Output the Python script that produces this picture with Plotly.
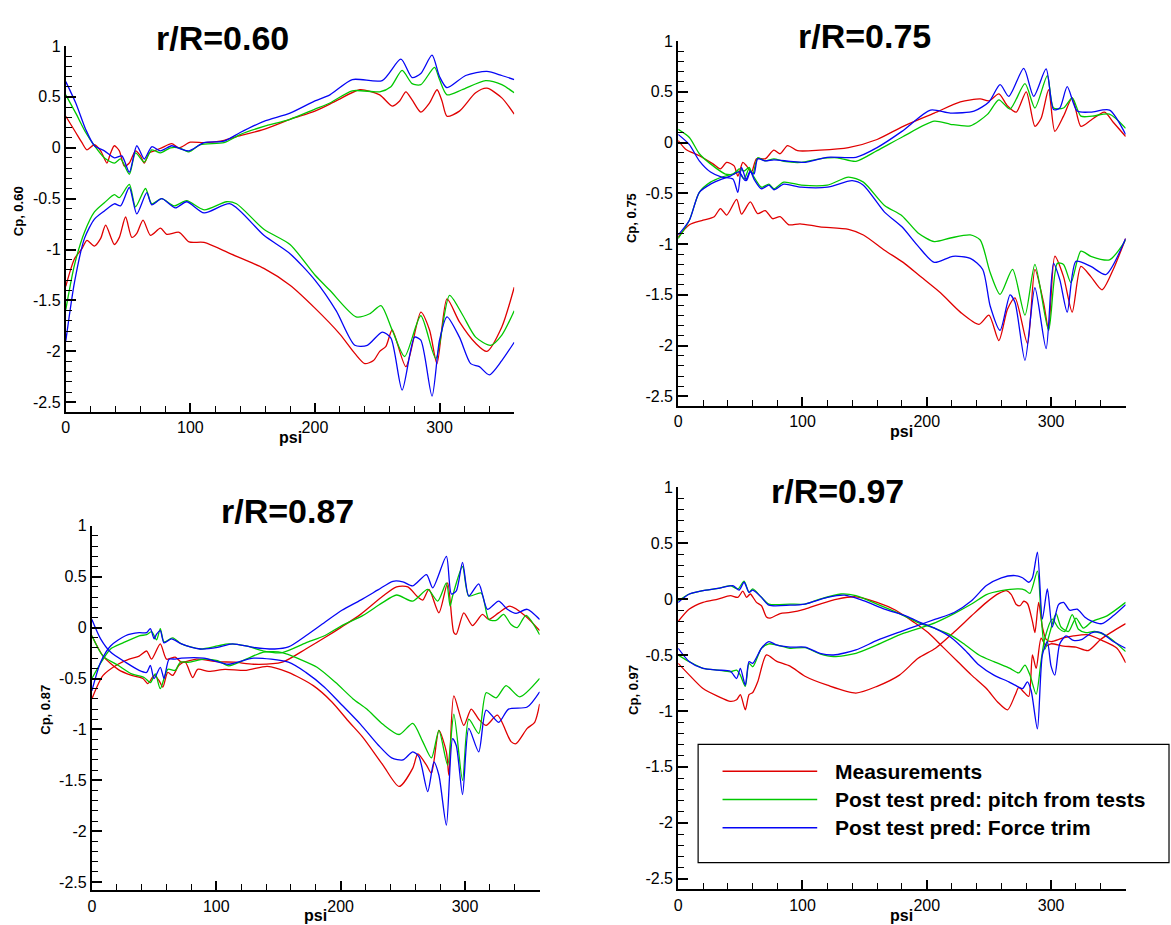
import plotly.graph_objects as go

W, H = 1171, 925
FONT = "Liberation Sans, Arial, Helvetica, sans-serif"

# ---------------- data (psi [deg], value) ----------------
SERIES = ["Measurements", "Post test pred: pitch from tests", "Post test pred: Force trim"]
COLORS = ["#e00000", "#00c800", "#0505f5"]

X_TICKS = [0, 100, 200, 300]
X_TICK_TEXT = ["0", "100", "200", "300"]
Y_TICKS = [-2.5, -2, -1.5, -1, -0.5, 0, 0.5, 1]
Y_TICK_TEXT = ["-2.5", "-2", "-1.5", "-1", "-0.5", "0", "0.5", "1"]

# r/R = 0.60
P60_MEAS_UP = [(0,0.31),(8,0.15),(13,0.05),(17,-0.02),(23,0.03),(28,-0.03),(33,-0.15),(36,-0.05),(39,0.02),(43,-0.03),(47,-0.18),(51,-0.15),(56,-0.03),(60,-0.08),(63,-0.15),(67,-0.05),(71,-0.03),(77,0.0),(85,0.04),(91,0.0),(100,0.055),(111,0.05),(124,0.065),(137,0.11),(159,0.18),(180,0.28),(200,0.36),(217,0.46),(236,0.57),(252,0.52),(262,0.41),(268,0.46),(273,0.55),(278,0.47),(285,0.35),(292,0.44),(298,0.57),(302,0.46),(306,0.31),(316,0.36),(329,0.54),(338,0.585),(350,0.49),(360,0.33)]
P60_MEAS_LO = [(0,-1.36),(7,-1.09),(13,-0.99),(17,-0.91),(23,-0.965),(28,-0.89),(32,-0.76),(39,-0.95),(43,-0.88),(48,-0.68),(53,-0.88),(57,-0.84),(62,-0.71),(68,-0.86),(76,-0.79),(81,-0.85),(91,-0.83),(99,-0.925),(111,-0.93),(132,-1.04),(159,-1.185),(180,-1.35),(200,-1.575),(220,-1.83),(232,-2.02),(240,-2.12),(247,-2.09),(252,-2.00),(257,-1.95),(262,-1.79),(273,-2.15),(285,-1.615),(292,-1.79),(298,-2.12),(306,-1.485),(316,-1.71),(329,-1.92),(338,-2.00),(350,-1.76),(360,-1.37)]
P60_PITCH_UP = [(0,0.52),(8,0.34),(16,0.15),(23,0.02),(31,-0.10),(39,-0.15),(44,-0.11),(51,-0.26),(56,-0.05),(63,-0.14),(69,-0.02),(76,-0.05),(84,0.0),(91,0.0),(99,-0.04),(108,0.03),(127,0.05),(140,0.13),(159,0.21),(180,0.28),(200,0.38),(212,0.44),(230,0.56),(252,0.55),(261,0.60),(270,0.76),(278,0.63),(285,0.62),(296,0.79),(300,0.67),(306,0.52),(318,0.57),(337,0.66),(350,0.62),(360,0.54)]
P60_PITCH_LO = [(0,-1.59),(7,-1.15),(15,-0.83),(23,-0.63),(31,-0.54),(39,-0.46),(43,-0.49),(51,-0.36),(56,-0.58),(64,-0.40),(69,-0.55),(77,-0.50),(87,-0.57),(97,-0.52),(111,-0.61),(129,-0.53),(137,-0.55),(159,-0.80),(180,-0.95),(200,-1.25),(212,-1.40),(233,-1.66),(244,-1.63),(253,-1.55),(262,-1.79),(272,-2.05),(285,-1.65),(297,-2.07),(308,-1.45),(318,-1.63),(329,-1.86),(341,-1.94),(350,-1.84),(360,-1.60)]
P60_FORCE_UP = [(0,0.65),(8,0.44),(16,0.18),(23,0.02),(31,-0.03),(39,-0.10),(45,-0.08),(51,-0.24),(57,0.02),(63,-0.11),(69,0.01),(76,-0.03),(85,0.02),(92,-0.01),(99,-0.03),(111,0.05),(127,0.065),(140,0.15),(159,0.26),(180,0.34),(200,0.46),(212,0.52),(230,0.67),(254,0.66),(269,0.87),(278,0.69),(285,0.73),(294,0.91),(300,0.70),(306,0.59),(321,0.71),(338,0.75),(350,0.71),(360,0.67)]
P60_FORCE_LO = [(0,-1.90),(7,-1.32),(15,-0.89),(23,-0.70),(31,-0.62),(39,-0.55),(44,-0.57),(51,-0.39),(57,-0.65),(65,-0.44),(69,-0.56),(77,-0.50),(88,-0.59),(97,-0.53),(111,-0.64),(132,-0.55),(159,-0.86),(180,-1.04),(200,-1.30),(217,-1.60),(232,-1.94),(242,-1.94),(254,-1.81),(261,-1.87),(270,-2.38),(280,-1.86),(285,-1.89),(294,-2.44),(300,-1.89),(306,-1.66),(316,-1.86),(325,-2.12),(332,-2.15),(340,-2.23),(350,-2.09),(360,-1.91)]

# r/R = 0.75
P75_MEAS_UP = [(0,0.02),(6,-0.065),(17,-0.13),(28,-0.21),(34,-0.26),(39,-0.195),(45,-0.23),(48,-0.33),(52,-0.195),(55,-0.23),(59,-0.29),(63,-0.16),(70,-0.16),(77,-0.075),(82,-0.11),(88,-0.03),(96,-0.08),(114,-0.075),(137,-0.05),(160,0.03),(181,0.16),(206,0.29),(227,0.40),(243,0.43),(250,0.41),(258,0.48),(265,0.36),(272,0.30),(280,0.50),(287,0.16),(292,0.24),(298,0.52),(303,0.11),(310,0.26),(317,0.44),(324,0.16),(332,0.22),(343,0.30),(350,0.20),(360,0.06)]
P75_MEAS_LO = [(0,-0.93),(9,-0.81),(20,-0.765),(29,-0.73),(34,-0.65),(39,-0.715),(47,-0.56),(51,-0.705),(58,-0.585),(64,-0.70),(70,-0.67),(76,-0.75),(82,-0.73),(89,-0.81),(98,-0.80),(114,-0.83),(137,-0.855),(149,-0.91),(166,-1.06),(181,-1.18),(195,-1.32),(211,-1.48),(227,-1.67),(242,-1.79),(250,-1.70),(258,-1.95),(265,-1.64),(271,-1.53),(281,-1.98),(287,-1.25),(294,-1.58),(298,-1.84),(303,-1.12),(310,-1.32),(317,-1.67),(324,-1.22),(332,-1.32),(341,-1.45),(350,-1.25),(360,-0.945)]
P75_PITCH_UP = [(0,0.13),(9,0.05),(17,-0.11),(26,-0.21),(38,-0.31),(45,-0.31),(49,-0.26),(53,-0.28),(57,-0.245),(60,-0.31),(64,-0.15),(70,-0.18),(77,-0.16),(85,-0.185),(99,-0.195),(114,-0.16),(128,-0.15),(143,-0.185),(160,-0.08),(181,0.06),(206,0.21),(219,0.18),(235,0.165),(249,0.28),(258,0.42),(267,0.33),(279,0.58),(287,0.34),(297,0.66),(302,0.34),(310,0.34),(317,0.44),(324,0.26),(333,0.26),(347,0.28),(360,0.14)]
P75_PITCH_LO = [(0,-0.945),(9,-0.765),(17,-0.49),(26,-0.39),(35,-0.34),(44,-0.31),(48,-0.28),(53,-0.36),(57,-0.26),(61,-0.34),(67,-0.44),(73,-0.41),(77,-0.455),(85,-0.39),(99,-0.42),(120,-0.42),(137,-0.34),(149,-0.39),(166,-0.62),(180,-0.72),(193,-0.89),(206,-0.975),(219,-0.94),(235,-0.91),(243,-0.96),(251,-1.28),(259,-1.495),(269,-1.25),(279,-1.70),(287,-1.20),(298,-1.85),(305,-1.19),(310,-1.20),(316,-1.38),(324,-1.07),(332,-1.12),(347,-1.155),(360,-0.96)]
P75_FORCE_UP = [(0,0.08),(9,-0.02),(17,-0.18),(26,-0.29),(35,-0.34),(44,-0.36),(48,-0.49),(51,-0.245),(55,-0.375),(58,-0.29),(61,-0.31),(64,-0.16),(70,-0.18),(77,-0.17),(90,-0.185),(102,-0.195),(120,-0.145),(143,-0.145),(160,-0.05),(180,0.11),(203,0.32),(219,0.29),(238,0.31),(250,0.40),(259,0.57),(266,0.455),(278,0.73),(286,0.455),(296,0.725),(302,0.325),(307,0.34),(313,0.55),(321,0.31),(332,0.30),(347,0.32),(360,0.08)]
P75_FORCE_LO = [(0,-0.91),(9,-0.765),(17,-0.49),(26,-0.41),(35,-0.36),(42,-0.33),(49,-0.29),(54,-0.375),(58,-0.28),(61,-0.36),(67,-0.455),(73,-0.42),(77,-0.465),(85,-0.41),(99,-0.44),(120,-0.44),(140,-0.375),(149,-0.42),(166,-0.685),(180,-0.83),(193,-1.02),(206,-1.18),(221,-1.12),(235,-1.14),(245,-1.25),(251,-1.61),(259,-1.85),(267,-1.50),(271,-1.575),(279,-2.145),(287,-1.43),(296,-2.03),(302,-1.19),(307,-1.35),(313,-1.67),(320,-1.17),(332,-1.22),(344,-1.30),(360,-0.945)]

# r/R = 0.87
P87_MEAS_UP = [(0,-0.70),(9,-0.47),(21,-0.36),(30,-0.31),(38,-0.28),(44,-0.23),(48,-0.31),(55,-0.16),(60,-0.31),(67,-0.29),(72,-0.34),(84,-0.31),(101,-0.335),(115,-0.34),(130,-0.36),(153,-0.34),(172,-0.21),(187,-0.10),(200,0.0),(216,0.13),(234,0.31),(245,0.40),(254,0.40),(262,0.30),(266,0.27),(271,0.375),(279,0.145),(286,0.44),(291,-0.05),(293,-0.065),(299,0.145),(306,0.02),(314,0.13),(319,0.08),(327,0.145),(336,0.21),(349,0.11),(360,-0.03)]
P87_MEAS_LO = [(0,-0.08),(9,-0.28),(21,-0.41),(32,-0.47),(41,-0.50),(45,-0.55),(50,-0.47),(54,-0.52),(57,-0.585),(61,-0.44),(65,-0.47),(70,-0.37),(75,-0.34),(81,-0.49),(85,-0.41),(94,-0.43),(107,-0.41),(124,-0.42),(141,-0.38),(158,-0.44),(178,-0.57),(193,-0.73),(207,-0.93),(218,-1.08),(234,-1.35),(247,-1.56),(258,-1.38),(262,-1.24),(269,-1.35),(273,-1.43),(279,-1.01),(285,-1.22),(287,-1.45),(291,-0.67),(299,-0.96),(305,-0.80),(311,-0.90),(317,-0.96),(326,-0.86),(337,-1.12),(341,-1.14),(350,-0.99),(356,-0.93),(360,-0.75)]
P87_PITCH_UP = [(0,-0.50),(8,-0.33),(15,-0.21),(25,-0.15),(38,-0.08),(44,-0.07),(48,-0.04),(52,-0.12),(55,-0.01),(58,-0.14),(65,-0.10),(72,-0.16),(87,-0.21),(101,-0.18),(110,-0.16),(124,-0.18),(138,-0.23),(153,-0.245),(172,-0.15),(187,-0.08),(201,0.02),(218,0.12),(233,0.24),(245,0.32),(258,0.26),(270,0.375),(278,0.26),(285,0.44),(288,0.21),(290,0.31),(298,0.60),(303,0.31),(313,0.34),(319,0.08),(325,0.07),(331,0.13),(337,0.03),(342,0.0),(349,0.12),(360,-0.07)]
P87_PITCH_LO = [(0,-0.08),(9,-0.28),(21,-0.37),(32,-0.455),(42,-0.49),(47,-0.54),(51,-0.455),(55,-0.60),(61,-0.41),(67,-0.42),(71,-0.34),(78,-0.34),(90,-0.31),(101,-0.325),(110,-0.375),(124,-0.31),(138,-0.24),(153,-0.245),(167,-0.31),(181,-0.39),(196,-0.54),(210,-0.70),(221,-0.80),(234,-0.95),(247,-1.05),(258,-0.94),(266,-1.12),(273,-1.28),(279,-1.01),(286,-1.35),(291,-0.85),(298,-1.50),(303,-0.90),(311,-1.04),(317,-0.64),(325,-0.69),(333,-0.57),(344,-0.68),(360,-0.50)]
P87_FORCE_UP = [(0,-0.62),(7,-0.34),(15,-0.18),(27,-0.08),(38,-0.05),(44,-0.05),(47,-0.01),(50,-0.11),(52,-0.065),(55,-0.03),(58,-0.15),(64,-0.11),(72,-0.16),(87,-0.21),(101,-0.195),(113,-0.16),(130,-0.195),(147,-0.21),(158,-0.19),(172,-0.08),(187,0.05),(201,0.17),(216,0.27),(230,0.37),(242,0.455),(250,0.45),(258,0.41),(269,0.52),(274,0.39),(285,0.70),(289,0.33),(293,0.36),(298,0.64),(303,0.31),(311,0.43),(318,0.18),(327,0.26),(334,0.18),(341,0.14),(350,0.18),(360,0.08)]
P87_FORCE_LO = [(0,0.08),(7,-0.11),(15,-0.24),(27,-0.34),(38,-0.42),(44,-0.44),(47,-0.37),(50,-0.50),(55,-0.39),(58,-0.50),(62,-0.31),(67,-0.31),(72,-0.30),(90,-0.30),(110,-0.36),(130,-0.30),(158,-0.34),(172,-0.44),(187,-0.585),(201,-0.76),(216,-0.95),(230,-1.15),(241,-1.28),(250,-1.30),(258,-1.22),(263,-1.27),(270,-1.61),(275,-1.32),(279,-1.45),(285,-1.94),(290,-1.09),(293,-1.16),(298,-1.64),(303,-0.99),(311,-1.22),(317,-0.81),(327,-0.93),(335,-0.80),(350,-0.78),(360,-0.63)]

# r/R = 0.97
P97_MEAS_UP = [(0,-0.20),(9,-0.09),(20,-0.03),(32,0.0),(42,0.03),(48,0.015),(52,0.07),(55,0.015),(58,0.045),(63,-0.03),(67,-0.06),(71,-0.16),(74,-0.17),(82,-0.13),(90,-0.12),(102,-0.09),(114,-0.045),(128,0.0),(143,0.02),(160,-0.03),(175,-0.10),(190,-0.21),(201,-0.30),(213,-0.43),(225,-0.56),(236,-0.68),(248,-0.80),(257,-0.92),(265,-0.99),(271,-0.86),(274,-0.79),(278,-0.83),(282,-0.87),(285,-0.50),(288,-0.62),(292,-0.35),(296,-0.42),(300,-0.40),(310,-0.42),(320,-0.43),(330,-0.46),(340,-0.36),(348,-0.30),(360,-0.22)]
P97_MEAS_LO = [(0,-0.575),(9,-0.68),(20,-0.80),(32,-0.87),(42,-0.915),(47,-0.90),(50,-0.855),(54,-0.99),(57,-0.855),(60,-0.835),(64,-0.74),(71,-0.50),(79,-0.555),(90,-0.60),(102,-0.69),(120,-0.77),(143,-0.84),(160,-0.78),(178,-0.68),(193,-0.53),(207,-0.44),(222,-0.295),(236,-0.15),(248,-0.03),(258,0.05),(264,0.075),(268,0.04),(272,-0.05),(275,-0.06),(278,-0.02),(281,-0.04),(285,-0.20),(287,-0.30),(290,-0.03),(293,-0.25),(296,-0.36),(300,-0.38),(309,-0.35),(318,-0.33),(330,-0.32),(341,-0.37),(353,-0.44),(360,-0.57)]
P97_PITCH_UP = [(0,-0.015),(9,0.045),(20,0.075),(32,0.095),(42,0.12),(48,0.09),(53,0.16),(57,0.06),(60,0.09),(67,0.015),(73,-0.045),(90,-0.045),(102,-0.045),(114,0.0),(131,0.045),(143,0.03),(160,-0.045),(178,-0.13),(193,-0.21),(207,-0.265),(219,-0.32),(231,-0.41),(242,-0.50),(254,-0.56),(267,-0.62),(274,-0.66),(279,-0.59),(283,-0.68),(288,-0.85),(292,-0.55),(295,-0.35),(301,-0.18),(306,-0.26),(311,-0.29),(317,-0.14),(322,-0.27),(328,-0.30),(335,-0.29),(345,-0.33),(360,-0.47)]
P97_PITCH_LO = [(0,-0.50),(9,-0.56),(20,-0.62),(32,-0.635),(42,-0.65),(47,-0.635),(50,-0.68),(54,-0.78),(57,-0.575),(60,-0.605),(67,-0.44),(73,-0.40),(79,-0.41),(90,-0.44),(102,-0.435),(114,-0.49),(125,-0.515),(143,-0.485),(160,-0.41),(178,-0.32),(193,-0.265),(207,-0.21),(222,-0.13),(236,-0.045),(248,0.04),(260,0.075),(274,0.09),(279,0.08),(283,0.05),(289,0.25),(292,-0.15),(295,-0.45),(299,-0.30),(304,-0.13),(308,-0.25),(314,-0.29),(320,-0.17),(326,-0.26),(333,-0.20),(345,-0.15),(360,-0.03)]
P97_FORCE_UP = [(0,-0.03),(9,0.045),(20,0.075),(32,0.095),(44,0.12),(49,0.08),(53,0.15),(57,0.06),(60,0.08),(67,0.015),(73,-0.055),(90,-0.055),(102,-0.045),(120,0.015),(134,0.035),(149,-0.015),(166,-0.09),(184,-0.155),(195,-0.21),(207,-0.265),(219,-0.34),(231,-0.46),(242,-0.59),(254,-0.68),(266,-0.74),(271,-0.77),(277,-0.80),(281,-0.74),(284,-0.82),(289,-1.16),(293,-0.50),(297,-0.38),(300,-0.60),(303,-0.68),(307,-0.40),(312,-0.33),(318,-0.37),(325,-0.36),(333,-0.30),(340,-0.30),(350,-0.38),(360,-0.44)]
P97_FORCE_LO = [(0,-0.44),(9,-0.56),(20,-0.62),(32,-0.635),(42,-0.645),(47,-0.71),(50,-0.62),(54,-0.77),(57,-0.56),(60,-0.575),(67,-0.44),(73,-0.38),(79,-0.41),(90,-0.43),(102,-0.43),(114,-0.485),(125,-0.50),(143,-0.455),(160,-0.37),(178,-0.295),(193,-0.235),(207,-0.18),(222,-0.12),(236,-0.015),(248,0.12),(260,0.19),(271,0.21),(277,0.19),(282,0.15),(285,0.19),(289,0.42),(293,-0.18),(297,0.09),(301,-0.25),(306,-0.05),(310,-0.03),(315,-0.10),(321,-0.09),(327,-0.16),(333,-0.20),(341,-0.22),(350,-0.15),(360,-0.05)]

PANELS = [
    dict(label="0.60", curves=[(P60_MEAS_UP, P60_MEAS_LO), (P60_PITCH_UP, P60_PITCH_LO), (P60_FORCE_UP, P60_FORCE_LO)],
         px=(62, 512), py=(38.3, 407.3), ybot=-2.593, title=(219, 30), ytitle=(14, 205), psi=(287, 433)),
    dict(label="0.75", curves=[(P75_MEAS_UP, P75_MEAS_LO), (P75_PITCH_UP, P75_PITCH_LO), (P75_FORCE_UP, P75_FORCE_LO)],
         px=(676.5, 1125.5), py=(33.3, 401), ybot=-2.59, title=(863, 28), ytitle=(629, 212), psi=(901, 427)),
    dict(label="0.87", curves=[(P87_MEAS_UP, P87_MEAS_LO), (P87_PITCH_UP, P87_PITCH_LO), (P87_FORCE_UP, P87_FORCE_LO)],
         px=(88.2, 537.5), py=(522.3, 890), ybot=-2.58, title=(284, 507), ytitle=(42, 708), psi=(313, 915)),
    dict(label="0.97", curves=[(P97_MEAS_UP, P97_MEAS_LO), (P97_PITCH_UP, P97_PITCH_LO), (P97_FORCE_UP, P97_FORCE_LO)],
         px=(676.5, 1125.5), py=(483.3, 889), ybot=-2.594, title=(836, 487), ytitle=(631, 688), psi=(901, 915)),
]

fig = go.Figure()
annotations = []
shapes = []

for i, p in enumerate(PANELS):
    n = "" if i == 0 else str(i + 1)
    for (up, lo), color in zip(p["curves"], COLORS):
        for curve in (up, lo):
            fig.add_trace(go.Scatter(
                x=[c[0] for c in curve], y=[c[1] for c in curve],
                xaxis="x" + n, yaxis="y" + n, mode="lines", showlegend=False,
                line=dict(color=color, width=1.3, shape="spline", smoothing=0.7),
                hoverinfo="skip"))
    x0, x1 = p["px"]
    ytop, ybottom = p["py"]
    fig.layout["xaxis" + n] = dict(
        domain=[x0 / W, x1 / W], range=[0, 360], anchor="y" + n,
        showgrid=False, zeroline=False, showline=True, linecolor="black", linewidth=2,
        ticks="inside", ticklen=9, tickwidth=1.5, tickcolor="black",
        tickvals=X_TICKS, ticktext=X_TICK_TEXT,
        tickfont=dict(family=FONT, size=16, color="black"),
        minor=dict(dtick=20, tick0=0, ticks="inside", ticklen=6, tickwidth=1.2, tickcolor="black"),
    )
    fig.layout["yaxis" + n] = dict(
        domain=[1 - ybottom / H, 1 - ytop / H], range=[p["ybot"], 1.0], anchor="x" + n,
        showgrid=False, zeroline=False, showline=True, linecolor="black", linewidth=2,
        ticks="inside", ticklen=10, tickwidth=1.5, tickcolor="black",
        tickvals=Y_TICKS, ticktext=Y_TICK_TEXT,
        tickfont=dict(family=FONT, size=16, color="black"),
        minor=dict(dtick=0.1, tick0=0, ticks="inside", ticklen=6, tickwidth=1.2, tickcolor="black"),
    )
    tx, ty = p["title"]
    annotations.append(dict(text="<b>r/R=%s</b>" % p["label"], x=tx / W, y=1 - ty / H,
                            xref="paper", yref="paper", showarrow=False, xanchor="center", yanchor="middle",
                            font=dict(family=FONT, size=34, color="black")))
    sx, sy = p["psi"]
    annotations.append(dict(text="<b>psi</b>", x=sx / W, y=1 - sy / H, xref="paper", yref="paper",
                            showarrow=False, xanchor="center", yanchor="middle",
                            font=dict(family=FONT, size=16, color="black")))
    yx, yy = p["ytitle"]
    annotations.append(dict(text="<b>Cp, %s</b>" % p["label"], x=yx / W, y=1 - yy / H, xref="paper", yref="paper",
                            showarrow=False, xanchor="center", yanchor="middle", textangle=-90,
                            font=dict(family=FONT, size=13, color="black")))

# legend box (drawn in the bottom-right panel)
LEG_BOX = (696.5, 742.7, 1169, 862)
shapes.append(dict(type="rect", xref="paper", yref="paper",
                   x0=LEG_BOX[0] / W, x1=LEG_BOX[2] / W, y0=1 - LEG_BOX[3] / H, y1=1 - LEG_BOX[1] / H,
                   line=dict(color="black", width=1.2), fillcolor="white", layer="above"))
for k, (name, color) in enumerate(zip(SERIES, COLORS)):
    ry = 770 + k * 28.5
    shapes.append(dict(type="line", xref="paper", yref="paper", x0=721 / W, x1=816 / W,
                       y0=1 - ry / H, y1=1 - ry / H, line=dict(color=color, width=1.5), layer="above"))
    annotations.append(dict(text="<b>%s</b>" % name, x=832 / W, y=1 - ry / H, xref="paper", yref="paper",
                            showarrow=False, xanchor="left", yanchor="middle",
                            font=dict(family=FONT, size=21, color="black")))

fig.update_layout(
    width=W, height=H, margin=dict(l=0, r=0, t=0, b=0),
    paper_bgcolor="white", plot_bgcolor="white",
    showlegend=False, annotations=annotations, shapes=shapes,
    font=dict(family=FONT, color="black"),
)

fig.write_html("out.html")
